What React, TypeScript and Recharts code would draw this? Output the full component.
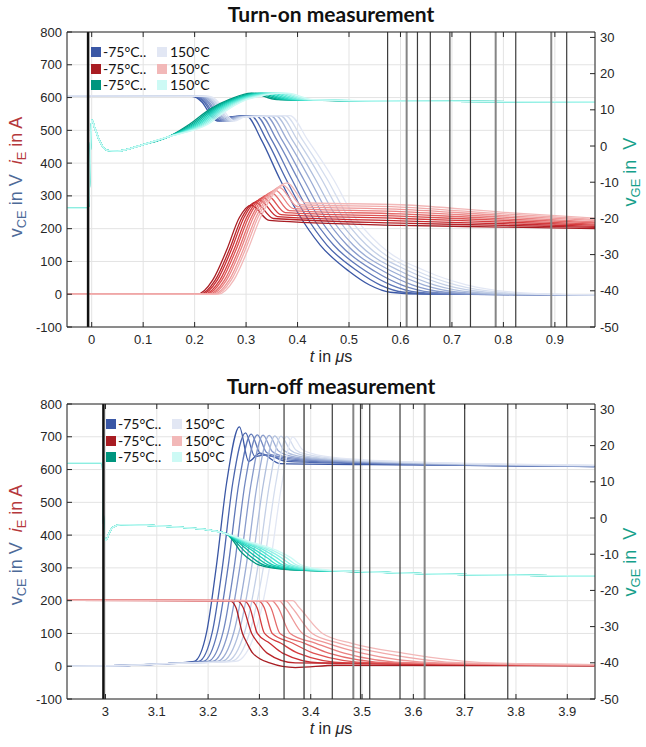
import React from "react";
import { CartesianGrid, Line, LineChart, ReferenceLine, XAxis, YAxis } from "recharts";

type Pt = [number, number];

const temps = ["-75°C", "-50°C", "-25°C", "0°C", "25°C", "50°C", "75°C", "100°C", "125°C", "150°C"];

const onTicks = [0, 0.1, 0.2, 0.3, 0.4, 0.5, 0.6, 0.7, 0.8, 0.9];
const offTicks = [3, 3.1, 3.2, 3.3, 3.4, 3.5, 3.6, 3.7, 3.8, 3.9];
const leftTicks = [-100, 0, 100, 200, 300, 400, 500, 600, 700, 800];
const rightTicks = [-50, -40, -30, -20, -10, 0, 10, 20, 30];

// vertical cursor lines (µs)
const onMarks = [-0.007, 0.575, 0.612, 0.633, 0.658, 0.696, 0.736, 0.785, 0.824, 0.893, 0.923];
const offMarks = [2.996, 3.348, 3.387, 3.442, 3.483, 3.497, 3.515, 3.574, 3.622, 3.7, 3.784];

// ---- turn-on: v_CE (V), left axis
const onVce: Pt[][] = [
  [[-0.048, 605], [0.195, 604], [0.215, 585], [0.232, 545], [0.245, 528], [0.265, 540], [0.300, 545], [0.330, 470], [0.366, 350], [0.400, 250], [0.444, 150], [0.500, 70], [0.540, 28], [0.580, 6], [0.650, 0], [0.978, -2]],
  [[-0.048, 605], [0.199, 604], [0.219, 585], [0.236, 545], [0.249, 528], [0.269, 540], [0.309, 545], [0.340, 470], [0.378, 350], [0.412, 250], [0.457, 150], [0.517, 70], [0.561, 28], [0.607, 6], [0.678, 0], [0.978, -2]],
  [[-0.048, 605], [0.202, 604], [0.222, 585], [0.239, 545], [0.252, 528], [0.272, 540], [0.319, 545], [0.350, 470], [0.389, 350], [0.423, 250], [0.470, 150], [0.533, 70], [0.582, 28], [0.633, 6], [0.706, 0], [0.978, -2]],
  [[-0.048, 605], [0.206, 604], [0.226, 585], [0.243, 545], [0.256, 528], [0.276, 540], [0.328, 545], [0.360, 470], [0.401, 350], [0.435, 250], [0.483, 150], [0.550, 70], [0.603, 28], [0.660, 6], [0.733, 0], [0.978, -2]],
  [[-0.048, 605], [0.209, 604], [0.229, 585], [0.246, 545], [0.259, 528], [0.279, 540], [0.338, 545], [0.370, 470], [0.412, 350], [0.447, 250], [0.496, 150], [0.567, 70], [0.624, 28], [0.687, 6], [0.761, 0], [0.978, -2]],
  [[-0.048, 605], [0.213, 604], [0.233, 585], [0.250, 545], [0.263, 528], [0.283, 540], [0.347, 545], [0.380, 470], [0.424, 350], [0.458, 250], [0.508, 150], [0.583, 70], [0.646, 28], [0.713, 6], [0.789, 0], [0.978, -2]],
  [[-0.048, 605], [0.216, 604], [0.236, 585], [0.253, 545], [0.266, 528], [0.286, 540], [0.357, 545], [0.390, 470], [0.435, 350], [0.470, 250], [0.521, 150], [0.600, 70], [0.667, 28], [0.740, 6], [0.817, 0], [0.978, -2]],
  [[-0.048, 605], [0.220, 604], [0.240, 585], [0.257, 545], [0.270, 528], [0.290, 540], [0.366, 545], [0.400, 470], [0.447, 350], [0.482, 250], [0.534, 150], [0.617, 70], [0.688, 28], [0.767, 6], [0.844, 0], [0.978, -2]],
  [[-0.048, 605], [0.223, 604], [0.243, 585], [0.260, 545], [0.273, 528], [0.293, 540], [0.376, 545], [0.410, 470], [0.458, 350], [0.493, 250], [0.547, 150], [0.633, 70], [0.709, 28], [0.793, 6], [0.872, 0], [0.978, -2]],
  [[-0.048, 605], [0.227, 604], [0.247, 585], [0.264, 545], [0.277, 528], [0.297, 540], [0.385, 545], [0.420, 470], [0.470, 350], [0.505, 250], [0.560, 150], [0.650, 70], [0.730, 28], [0.820, 6], [0.900, 0], [0.978, -2]],
];

// ---- turn-on: i_E (A), left axis
const onIe: Pt[][] = [
  [[-0.048, 0], [0.205, 0], [0.235, 43], [0.262, 134], [0.287, 234], [0.310, 272], [0.345, 225], [0.600, 210], [0.800, 205], [0.978, 200]],
  [[-0.048, 0], [0.210, 0], [0.240, 43], [0.267, 134], [0.292, 234], [0.318, 280], [0.353, 231], [0.600, 217], [0.800, 210], [0.978, 204]],
  [[-0.048, 0], [0.214, 0], [0.244, 43], [0.271, 134], [0.296, 234], [0.326, 287], [0.361, 237], [0.600, 224], [0.800, 215], [0.978, 207]],
  [[-0.048, 0], [0.219, 0], [0.249, 43], [0.276, 134], [0.301, 234], [0.333, 295], [0.368, 243], [0.600, 231], [0.800, 220], [0.978, 211]],
  [[-0.048, 0], [0.223, 0], [0.253, 43], [0.280, 134], [0.305, 234], [0.341, 302], [0.376, 249], [0.600, 238], [0.800, 225], [0.978, 214]],
  [[-0.048, 0], [0.228, 0], [0.258, 43], [0.285, 134], [0.310, 234], [0.349, 310], [0.384, 255], [0.600, 245], [0.800, 230], [0.978, 218]],
  [[-0.048, 0], [0.232, 0], [0.262, 43], [0.289, 134], [0.314, 234], [0.357, 317], [0.392, 261], [0.600, 252], [0.800, 235], [0.978, 221]],
  [[-0.048, 0], [0.237, 0], [0.267, 43], [0.294, 134], [0.319, 234], [0.365, 325], [0.400, 267], [0.600, 259], [0.800, 240], [0.978, 225]],
  [[-0.048, 0], [0.241, 0], [0.271, 43], [0.298, 134], [0.323, 234], [0.372, 332], [0.407, 273], [0.600, 266], [0.800, 245], [0.978, 228]],
  [[-0.048, 0], [0.246, 0], [0.276, 43], [0.303, 134], [0.328, 234], [0.380, 340], [0.415, 279], [0.600, 273], [0.800, 250], [0.978, 232]],
];

// ---- turn-on: v_GE (V), right axis
const onGateLead: Pt[] = [[-0.048, -17.2], [-0.006, -17.2], [-0.003, -3], [0.0, 7.2], [0.006, 5], [0.015, 1.5], [0.03, -1.2], [0.05, -1.4], [0.1, 0.4], [0.15, 2.6]];
const onGateTail: Pt[][] = [
  [[0.190, 6.0], [0.230, 10.2], [0.270, 13.0], [0.310, 14.6], [0.360, 12.8], [0.6, 12.4], [0.978, 12.2]],
  [[0.194, 6.0], [0.234, 10.2], [0.274, 13.0], [0.318, 14.6], [0.368, 12.8], [0.6, 12.4], [0.978, 12.2]],
  [[0.198, 6.0], [0.238, 10.2], [0.278, 13.0], [0.326, 14.6], [0.376, 12.8], [0.6, 12.4], [0.978, 12.2]],
  [[0.202, 6.0], [0.242, 10.2], [0.282, 13.0], [0.333, 14.6], [0.383, 12.8], [0.6, 12.4], [0.978, 12.2]],
  [[0.206, 6.0], [0.246, 10.2], [0.286, 13.0], [0.341, 14.6], [0.391, 12.8], [0.6, 12.4], [0.978, 12.2]],
  [[0.210, 6.0], [0.250, 10.2], [0.290, 13.0], [0.349, 14.6], [0.399, 12.8], [0.6, 12.4], [0.978, 12.2]],
  [[0.214, 6.0], [0.254, 10.2], [0.294, 13.0], [0.357, 14.6], [0.407, 12.8], [0.6, 12.4], [0.978, 12.2]],
  [[0.218, 6.0], [0.258, 10.2], [0.298, 13.0], [0.365, 14.6], [0.415, 12.8], [0.6, 12.4], [0.978, 12.2]],
  [[0.222, 6.0], [0.262, 10.2], [0.302, 13.0], [0.372, 14.6], [0.422, 12.8], [0.6, 12.4], [0.978, 12.2]],
  [[0.226, 6.0], [0.266, 10.2], [0.306, 13.0], [0.380, 14.6], [0.430, 12.8], [0.6, 12.4], [0.978, 12.2]],
];

// ---- turn-off: v_CE (V), left axis
const offVceLead: Pt[] = [[2.925, 0], [3.05, 3], [3.12, 8]];
const offVceTail: Pt[][] = [
  [[3.173, 15], [3.197, 103], [3.216, 304], [3.236, 559], [3.261, 730], [3.279, 625], [3.301, 650], [3.341, 618], [3.6, 614], [3.953, 609]],
  [[3.182, 15], [3.208, 103], [3.228, 304], [3.248, 559], [3.273, 712], [3.291, 640], [3.313, 645], [3.353, 625], [3.6, 615], [3.953, 609]],
  [[3.191, 15], [3.218, 103], [3.239, 304], [3.260, 559], [3.284, 708], [3.302, 648], [3.324, 640], [3.364, 628], [3.6, 616], [3.953, 610]],
  [[3.200, 15], [3.229, 103], [3.251, 304], [3.272, 559], [3.296, 706], [3.314, 652], [3.336, 640], [3.376, 630], [3.6, 617], [3.953, 610]],
  [[3.209, 15], [3.239, 103], [3.262, 304], [3.284, 559], [3.307, 705], [3.325, 655], [3.347, 640], [3.387, 632], [3.6, 618], [3.953, 611]],
  [[3.218, 15], [3.250, 103], [3.274, 304], [3.296, 559], [3.319, 704], [3.337, 657], [3.359, 642], [3.399, 633], [3.6, 619], [3.953, 611]],
  [[3.227, 15], [3.260, 103], [3.285, 304], [3.308, 559], [3.330, 703], [3.348, 658], [3.370, 643], [3.410, 634], [3.6, 620], [3.953, 612]],
  [[3.236, 15], [3.271, 103], [3.297, 304], [3.320, 559], [3.342, 702], [3.360, 660], [3.382, 645], [3.422, 635], [3.6, 621], [3.953, 612]],
  [[3.245, 15], [3.281, 103], [3.308, 304], [3.332, 559], [3.353, 701], [3.371, 660], [3.393, 646], [3.433, 636], [3.6, 622], [3.953, 613]],
  [[3.254, 15], [3.292, 103], [3.320, 304], [3.344, 559], [3.365, 700], [3.383, 662], [3.405, 648], [3.445, 637], [3.6, 623], [3.953, 613]],
];

// ---- turn-off: i_E (A), left axis
const offIe: Pt[][] = [
  [[2.925, 201], [3.242, 200], [3.254, 180], [3.267, 100], [3.276, 70], [3.287, 40], [3.320, 10], [3.370, -4], [3.450, 3], [3.953, 1]],
  [[2.925, 201], [3.256, 200], [3.268, 180], [3.285, 100], [3.298, 70], [3.315, 40], [3.370, 10], [3.953, 2]],
  [[2.925, 201], [3.269, 200], [3.281, 180], [3.296, 100], [3.320, 70], [3.345, 40], [3.420, 10], [3.953, 2]],
  [[2.925, 201], [3.283, 200], [3.295, 180], [3.310, 100], [3.342, 70], [3.375, 40], [3.470, 10], [3.953, 3]],
  [[2.925, 201], [3.297, 200], [3.309, 180], [3.325, 100], [3.365, 70], [3.405, 40], [3.520, 10], [3.953, 3]],
  [[2.925, 201], [3.310, 200], [3.322, 180], [3.340, 100], [3.388, 70], [3.435, 40], [3.560, 10], [3.953, 3]],
  [[2.925, 201], [3.324, 200], [3.336, 180], [3.360, 100], [3.410, 70], [3.465, 40], [3.600, 10], [3.953, 4]],
  [[2.925, 201], [3.338, 200], [3.350, 180], [3.384, 100], [3.433, 70], [3.500, 40], [3.650, 10], [3.953, 4]],
  [[2.925, 201], [3.351, 200], [3.363, 180], [3.403, 100], [3.456, 70], [3.540, 40], [3.700, 10], [3.953, 5]],
  [[2.925, 201], [3.365, 200], [3.377, 180], [3.423, 100], [3.480, 70], [3.580, 40], [3.750, 10], [3.953, 5]],
];

// ---- turn-off: v_GE (V), right axis
const offGateLead: Pt[] = [[2.925, 15.3], [2.994, 15.3], [2.996, 0], [2.998, -5.5], [3.001, -6.2], [3.006, -4.5], [3.015, -2.5], [3.03, -1.8], [3.08, -2.0], [3.15, -2.6], [3.2, -3.3], [3.235, -4.3]];
const offGateTail: Pt[][] = [
  [[3.250, -6.5], [3.262, -9], [3.277, -11], [3.300, -13], [3.360, -14.3], [3.5, -14.8], [3.6, -15.3], [3.953, -16]],
  [[3.253, -6.5], [3.270, -9], [3.286, -11], [3.309, -13], [3.368, -14.3], [3.5, -14.8], [3.6, -15.3], [3.953, -16]],
  [[3.257, -6.5], [3.278, -9], [3.296, -11], [3.318, -13], [3.376, -14.3], [3.5, -14.8], [3.6, -15.3], [3.953, -16]],
  [[3.260, -6.5], [3.286, -9], [3.305, -11], [3.327, -13], [3.383, -14.3], [3.5, -14.8], [3.6, -15.3], [3.953, -16]],
  [[3.263, -6.5], [3.294, -9], [3.315, -11], [3.336, -13], [3.391, -14.3], [3.5, -14.8], [3.6, -15.3], [3.953, -16]],
  [[3.267, -6.5], [3.303, -9], [3.324, -11], [3.346, -13], [3.399, -14.3], [3.5, -14.8], [3.6, -15.3], [3.953, -16]],
  [[3.270, -6.5], [3.311, -9], [3.334, -11], [3.355, -13], [3.407, -14.3], [3.5, -14.8], [3.6, -15.3], [3.953, -16]],
  [[3.273, -6.5], [3.319, -9], [3.343, -11], [3.364, -13], [3.414, -14.3], [3.5, -14.8], [3.6, -15.3], [3.953, -16]],
  [[3.277, -6.5], [3.327, -9], [3.353, -11], [3.373, -13], [3.422, -14.3], [3.5, -14.8], [3.6, -15.3], [3.953, -16]],
  [[3.280, -6.5], [3.335, -9], [3.362, -11], [3.382, -13], [3.430, -14.3], [3.5, -14.8], [3.6, -15.3], [3.953, -16]],
];

const onVge = onGateTail.map((tail) => [...onGateLead, ...tail]);
const offVce = offVceTail.map((tail) => [...offVceLead, ...tail]);
const offVge = offGateTail.map((tail) => [...offGateLead, ...tail]);

// styling
const blueShades = ["#3a57a5", "#4b66ae", "#5e77b8", "#7288c1", "#879acb", "#9cadd5", "#b0bfdd", "#c3cfe6", "#d4ddee", "#e2e7f4"];
const redShades = ["#a81c22", "#b92328", "#c82c31", "#d43c3e", "#dd5252", "#e46969", "#ea8181", "#ee9797", "#f1abab", "#f2b8b8"];
const cyanShades = ["#00957e", "#00aa91", "#0abea5", "#1ecfb7", "#35dcc7", "#50e6d3", "#6eeddd", "#8ff2e6", "#aff6ee", "#cdfaf5"];
const markTones = ["edge", "dark", "gray", "dark", "dark", "dark", "dark", "gray", "dark", "gray", "dark"];
const offMarkTones = ["edge", "dark", "mid", "dark", "gray", "dark", "dark", "dark", "gray", "dark", "dark"];

const INK = "#262626";
const SANS = "'Liberation Sans', Arial, sans-serif";
const PLOT_H = 295;

function BottomTick(props: any) {
  const { x, y, payload } = props;
  const axisY = y - 7;
  return (
    <g>
      <line x1={x} x2={x} y1={axisY} y2={axisY - 5} stroke={INK} />
      <line x1={x} x2={x} y1={axisY - PLOT_H} y2={axisY - PLOT_H + 5} stroke={INK} />
      <text x={x} y={y} dy={10} textAnchor="middle" fontSize={13} fill={INK} fontFamily={SANS}>
        {payload.value}
      </text>
    </g>
  );
}

function LeftTick(props: any) {
  const { x, y, payload } = props;
  const axisX = x + 5;
  return (
    <g>
      <line x1={axisX} x2={axisX + 5} y1={y} y2={y} stroke={INK} />
      <text x={x} y={y} dy={4.5} textAnchor="end" fontSize={13} fill={INK} fontFamily={SANS}>
        {payload.value}
      </text>
    </g>
  );
}

function RightTick(props: any) {
  const { x, y, payload } = props;
  const axisX = x - 5;
  return (
    <g>
      <line x1={axisX} x2={axisX - 5} y1={y} y2={y} stroke={INK} />
      <text x={x} y={y} dy={4.5} textAnchor="start" fontSize={13} fill={INK} fontFamily={SANS}>
        {payload.value}
      </text>
    </g>
  );
}

const markStyle = (tone: string) => {
  if (tone === "edge") return { stroke: "#111111", strokeWidth: 2.5 };
  if (tone === "gray") return { stroke: "#858585", strokeWidth: 2 };
  if (tone === "mid") return { stroke: "#555555", strokeWidth: 1.5 };
  return { stroke: "#3c3c3c", strokeWidth: 1.2 };
};

const Sub = ({ children }: { children: React.ReactNode }) => (
  <span style={{ fontSize: "0.72em", position: "relative", top: "0.32em" }}>{children}</span>
);

type PanelProps = {
  top: number;
  title: string;
  domain: [number, number];
  ticks: number[];
  vce: Pt[][];
  ie: Pt[][];
  vge: Pt[][];
  marks: number[];
  tones: string[];
  legendX: number;
  leftLabelY: number;
  rightLabelY: number;
};

function Panel({ top, title, domain, ticks, vce, ie, vge, marks, tones, legendX, leftLabelY, rightLabelY }: PanelProps) {
  const rows = (pts: Pt[]) => pts.map(([t, v]) => ({ t, v }));
  const legendRows = [
    [blueShades[0], blueShades[9]],
    [redShades[0], redShades[9]],
    [cyanShades[0], cyanShades[9]],
  ];
  return (
    <div style={{ position: "absolute", left: 0, top, width: 646, height: 372 }}>
      <LineChart width={646} height={372} margin={{ top: 32, right: 0, bottom: 0, left: 0 }}>
        <CartesianGrid yAxisId="left" stroke="#e3e3e3" />
        <XAxis
          dataKey="t"
          type="number"
          domain={domain}
          ticks={ticks}
          interval={0}
          allowDataOverflow
          height={45}
          tickSize={0}
          tickMargin={7}
          stroke={INK}
          tick={(p: any) => <BottomTick {...p} />}
        />
        <YAxis
          yAxisId="left"
          domain={[-100, 800]}
          ticks={leftTicks}
          interval={0}
          allowDataOverflow
          width={67}
          tickSize={0}
          tickMargin={5}
          stroke={INK}
          tick={(p: any) => <LeftTick {...p} />}
        />
        <YAxis
          yAxisId="right"
          orientation="right"
          domain={[-50, 31.5]}
          ticks={rightTicks}
          interval={0}
          allowDataOverflow
          width={51}
          tickSize={0}
          tickMargin={5}
          stroke={INK}
          tick={(p: any) => <RightTick {...p} />}
        />
        {vce.map((pts, i) => (
          <Line key={`vce${i}`} yAxisId="left" data={rows(pts)} dataKey="v" name={`vCE ${temps[i]}`} type="monotone" stroke={blueShades[i]} strokeWidth={1.3} dot={false} isAnimationActive={false} />
        ))}
        {ie.map((pts, i) => (
          <Line key={`ie${i}`} yAxisId="left" data={rows(pts)} dataKey="v" name={`iE ${temps[i]}`} type="monotone" stroke={redShades[i]} strokeWidth={1.3} dot={false} isAnimationActive={false} />
        ))}
        {vge.map((pts, i) => (
          <Line key={`vge${i}`} yAxisId="right" data={rows(pts)} dataKey="v" name={`vGE ${temps[i]}`} type="monotone" stroke={cyanShades[i]} strokeWidth={1.3} dot={false} isAnimationActive={false} />
        ))}
        {marks.map((m, i) => (
          <ReferenceLine key={`m${i}`} yAxisId="left" x={m} {...markStyle(tones[i])} />
        ))}
        <ReferenceLine yAxisId="left" y={800} stroke={INK} />
      </LineChart>

      <div style={{ position: "absolute", left: 0, top: 1, width: 662, textAlign: "center", font: "700 21px Lato, sans-serif", lineHeight: "26px", color: "#111" }}>
        {title}
      </div>

      {legendRows.map(([c1, c2], r) => (
        <div key={r} style={{ position: "absolute", left: legendX, top: 44 + r * 16.5, width: 125, height: 16, font: "13.5px Lato, sans-serif", lineHeight: "16px", color: "#111", whiteSpace: "nowrap" }}>
          <span style={{ position: "absolute", left: 0, top: 3, width: 10, height: 10, background: c1 }} />
          <span style={{ position: "absolute", left: 12, top: 0, fontSize: 14 }}>-75°C..</span>
          <span style={{ position: "absolute", left: 66, top: 3, width: 10, height: 10, background: c2 }} />
          <span style={{ position: "absolute", left: 79, top: 0, fontSize: 14 }}>150°C</span>
        </div>
      ))}

      <div style={{ position: "absolute", left: 17, top: leftLabelY, transform: "translate(-50%, -50%) rotate(-90deg)", whiteSpace: "nowrap", font: `18px ${SANS}`, lineHeight: "20px" }}>
        <span style={{ color: "#4d6a98" }}>v<Sub>CE</Sub> in V</span>
        <span style={{ color: "#b5383c" }}>&nbsp;&nbsp;<i>i</i><Sub>E</Sub> in A</span>
      </div>

      <div style={{ position: "absolute", left: 631, top: rightLabelY, transform: "translate(-50%, -50%) rotate(-90deg)", whiteSpace: "nowrap", font: `18px ${SANS}`, lineHeight: "20px", color: "#15a08a" }}>
        v<Sub>GE</Sub> in&nbsp; V
      </div>

      <div style={{ position: "absolute", left: 331, top: 357, transform: "translate(-50%, -50%)", whiteSpace: "nowrap", font: `16px ${SANS}`, color: INK }}>
        <i>t</i> in <i>μ</i>s
      </div>
    </div>
  );
}

export default function App() {
  return (
    <div style={{ position: "absolute", left: 0, top: 0, width: 646, height: 747, background: "#fff" }}>
      <Panel
        top={0}
        title="Turn-on measurement"
        domain={[-0.048, 0.978]}
        ticks={onTicks}
        vce={onVce}
        ie={onIe}
        vge={onVge}
        marks={onMarks}
        tones={markTones}
        legendX={91}
        leftLabelY={177}
        rightLabelY={172}
      />
      <Panel
        top={372}
        title="Turn-off measurement"
        domain={[2.925, 3.954]}
        ticks={offTicks}
        vce={offVce}
        ie={offIe}
        vge={offVge}
        marks={offMarks}
        tones={offMarkTones}
        legendX={106}
        leftLabelY={173}
        rightLabelY={190}
      />
    </div>
  );
}
